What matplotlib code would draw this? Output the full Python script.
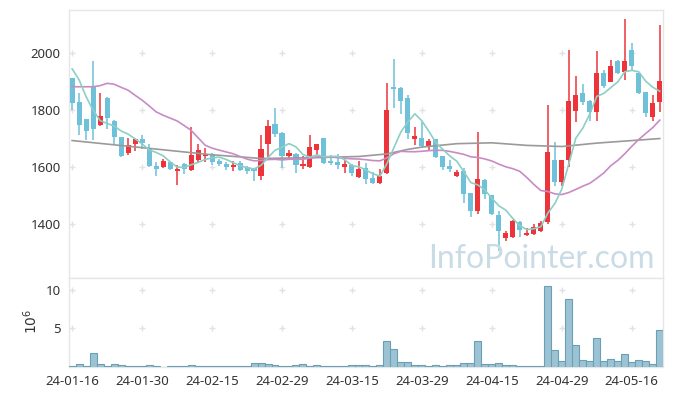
import numpy as np
import pandas as pd
import matplotlib
matplotlib.use('Agg')
import matplotlib.pyplot as plt

plt.rcParams['font.family'] = ['Noto Sans', 'DejaVu Sans']
plt.rcParams['mathtext.fontset'] = 'dejavusans'

# trading days (yy-mm-dd)
dates = ['24-01-16', '24-01-17', '24-01-18', '24-01-19', '24-01-22', '24-01-23', '24-01-24', '24-01-25',
         '24-01-26', '24-01-29', '24-01-30', '24-01-31', '24-02-01', '24-02-02', '24-02-05', '24-02-06',
         '24-02-07', '24-02-08', '24-02-13', '24-02-14', '24-02-15', '24-02-16', '24-02-19', '24-02-20',
         '24-02-21', '24-02-22', '24-02-23', '24-02-26', '24-02-27', '24-02-28', '24-02-29', '24-03-04',
         '24-03-05', '24-03-06', '24-03-07', '24-03-08', '24-03-11', '24-03-12', '24-03-13', '24-03-14',
         '24-03-15', '24-03-18', '24-03-19', '24-03-20', '24-03-21', '24-03-22', '24-03-25', '24-03-26',
         '24-03-27', '24-03-28', '24-03-29', '24-04-01', '24-04-02', '24-04-03', '24-04-04', '24-04-05',
         '24-04-08', '24-04-09', '24-04-11', '24-04-12', '24-04-15', '24-04-16', '24-04-17', '24-04-18',
         '24-04-19', '24-04-22', '24-04-23', '24-04-24', '24-04-25', '24-04-26', '24-04-29', '24-04-30',
         '24-05-02', '24-05-03', '24-05-07', '24-05-08', '24-05-09', '24-05-10', '24-05-13', '24-05-14',
         '24-05-16', '24-05-17', '24-05-20', '24-05-21', '24-05-22']

opens = [1913, 1828, 1767, 1880, 1748, 1841, 1761, 1707, 1649, 1682, 1698, 1668, 1602, 1600, 1619, 1586,
         1612, 1588, 1626, 1637, 1647, 1620, 1609, 1600, 1615, 1600, 1596, 1570, 1680, 1750, 1720, 1638,
         1645, 1602, 1600, 1659, 1701, 1622, 1616, 1600, 1608, 1564, 1595, 1561, 1543, 1579, 1880, 1878,
         1841, 1699, 1701, 1675, 1697, 1637, 1602, 1568, 1585, 1508, 1444, 1556, 1500, 1432, 1350, 1355,
         1407, 1360, 1365, 1376, 1406, 1623, 1547, 1626, 1797, 1860, 1833, 1794, 1932, 1900, 1973, 1935,
         2012, 1929, 1863, 1776, 1829]
highs = [1913, 1859, 1770, 1974, 1859, 1845, 1765, 1707, 1702, 1700, 1711, 1682, 1617, 1627, 1622, 1608,
         1614, 1739, 1680, 1668, 1650, 1628, 1619, 1620, 1620, 1602, 1598, 1714, 1765, 1806, 1722, 1661,
         1648, 1637, 1712, 1681, 1702, 1643, 1645, 1626, 1610, 1621, 1614, 1581, 1594, 1894, 1979, 1880,
         1852, 1741, 1757, 1698, 1700, 1638, 1626, 1590, 1598, 1510, 1723, 1558, 1502, 1444, 1376, 1414,
         1410, 1384, 1400, 1412, 1817, 1688, 1625, 2012, 1920, 1892, 1835, 2007, 1941, 1976, 1975, 2120,
         2035, 1931, 1865, 1852, 2100]
lows = [1802, 1712, 1694, 1694, 1745, 1735, 1680, 1636, 1643, 1655, 1662, 1600, 1567, 1598, 1590, 1538,
        1574, 1585, 1619, 1619, 1608, 1602, 1591, 1586, 1586, 1574, 1550, 1553, 1635, 1706, 1596, 1626,
        1578, 1594, 1598, 1641, 1612, 1606, 1594, 1580, 1567, 1562, 1539, 1541, 1541, 1577, 1808, 1785,
        1697, 1679, 1667, 1661, 1633, 1591, 1582, 1566, 1473, 1423, 1435, 1488, 1433, 1306, 1341, 1352,
        1353, 1358, 1362, 1372, 1400, 1535, 1532, 1600, 1759, 1818, 1762, 1761, 1876, 1898, 1926, 1906,
        1941, 1855, 1774, 1761, 1794]
closes = [1826, 1748, 1728, 1734, 1781, 1773, 1706, 1639, 1679, 1698, 1684, 1602, 1594, 1620, 1592, 1592,
          1594, 1641, 1661, 1645, 1617, 1610, 1600, 1606, 1588, 1586, 1585, 1665, 1743, 1715, 1640, 1648,
          1607, 1609, 1669, 1680, 1614, 1615, 1607, 1609, 1579, 1594, 1557, 1543, 1567, 1800, 1874, 1833,
          1720, 1708, 1675, 1690, 1635, 1600, 1593, 1583, 1506, 1444, 1559, 1506, 1435, 1374, 1368, 1412,
          1379, 1367, 1390, 1402, 1652, 1546, 1623, 1833, 1853, 1828, 1795, 1932, 1885, 1955, 1929, 1973,
          1956, 1859, 1790, 1824, 1902]
# volume in millions of shares
volumes = [0.15, 0.3, 0.05, 1.8, 0.35, 0.05, 0.3, 0.2, 0.08, 0.08, 0.08, 0.2, 0.08, 0.02, 0.06, 0.06,
           0.06, 0.2, 0.06, 0.06, 0.06, 0.06, 0.06, 0.06, 0.06, 0.06, 0.48, 0.48, 0.35, 0.2, 0.05, 0.15,
           0.2, 0.35, 0.08, 0.2, 0.05, 0.15, 0.13, 0.05, 0.17, 0.17, 0.17, 0.05, 0.17, 3.3, 2.26, 0.57,
           0.57, 0.17, 0.17, 0.05, 0.17, 0.05, 0.17, 0.17, 0.43, 0.43, 3.3, 0.3, 0.3, 0.43, 0.17, 0.17,
           0.05, 0.05, 0.05, 0.05, 10.5, 2.13, 0.7, 8.9, 2.78, 0.83, 0.7, 3.7, 0.7, 0.96, 0.7, 1.6,
           0.57, 0.83, 0.7, 0.3, 4.74]

# moving averages before enough window data is shown
ma5_head = [1945, 1906, 1847, 1800]
ma20_head = [1882, 1882, 1882, 1882, 1886, 1894, 1891, 1880, 1870, 1852, 1835, 1815, 1794, 1782, 1772,
             1762, 1746, 1729, 1703]
ma120_idx = [0, 10, 20, 27, 35, 41, 45, 48, 50, 55, 60, 65, 70, 75, 84]
ma120_val = [1693, 1668, 1643, 1630, 1633, 1637, 1646, 1662, 1670, 1682, 1685, 1676, 1672, 1684, 1700]

df = pd.DataFrame({'date': dates, 'open': opens, 'high': highs, 'low': lows,
                   'close': closes, 'volume': volumes})
x = np.arange(len(df))
ma5 = df['close'].rolling(5).mean()
ma5.iloc[:4] = ma5_head
ma20 = df['close'].rolling(20).mean()
ma20.iloc[:19] = ma20_head

up_color = '#ec343a'
down_color = '#6ec1d8'
grid_color = '#e2e2e2'
spine_color = '#e6e6e6'

fig = plt.figure(figsize=(6.73, 3.96), dpi=100)
ax1 = fig.add_axes([0.1025, 0.298, 0.8825, 0.6755])
ax2 = fig.add_axes([0.1025, 0.074, 0.8825, 0.224], sharex=ax1)

# candles: red up, blue down
up = df['close'] >= df['open']
colors = np.where(up, up_color, down_color)
body_low = np.minimum(df['open'], df['close'])
body_h = np.maximum(np.abs(df['close'] - df['open']), 4)

ax1.vlines(x, df['low'], df['high'], colors=colors, linewidth=1.1, zorder=2)
ax1.bar(x, body_h, bottom=body_low, width=0.72, color=colors, zorder=3)

# moving averages
ax1.plot(ma120_idx, ma120_val, color='#9a9a9a', linewidth=1.2, zorder=4)
ax1.plot(x, ma20, color='#c88bc5', linewidth=1.2, zorder=4)
ax1.plot(x, ma5, color='#8ccfc5', linewidth=1.2, zorder=4)

ax1.set_ylim(1210, 2150)
ax1.set_xlim(-0.45, 84.45)
ax1.set_yticks([1400, 1600, 1800, 2000])

tick_idx = list(range(0, len(df), 10))
ax2.set_xticks(tick_idx)
ax2.set_xticklabels([dates[i] for i in tick_idx])

# volume
ax2.bar(x, df['volume'], width=1.0, color='#9cc3d3', edgecolor='#6a9fb6', linewidth=0.8, zorder=3)
ax2.set_ylim(0, 11.6)
ax2.set_yticks([5, 10])

# light "+" marks at grid intersections
for ax in (ax1, ax2):
    gx, gy = np.meshgrid(tick_idx, ax.get_yticks())
    ax.plot(gx.ravel(), gy.ravel(), '+', color=grid_color, markersize=5, markeredgewidth=1, zorder=1)
    for s in ax.spines.values():
        s.set_color(spine_color)
        s.set_linewidth(1)
    ax.tick_params(length=0, labelsize=9.5, labelcolor='#333333', pad=6)

plt.setp(ax1.get_xticklabels(), visible=False)

fig.text(32 / 673, 1 - 321 / 396, '$10^{6}$', rotation=90, ha='center', va='center',
         fontsize=10, color='#333333')

fig.text(655 / 673, 1 - 268 / 396, 'InfoPointer.com', ha='right', va='baseline',
         fontsize=23, color='#c9dce6', family='Lato', zorder=0)

fig.savefig('out.png', dpi=100)
